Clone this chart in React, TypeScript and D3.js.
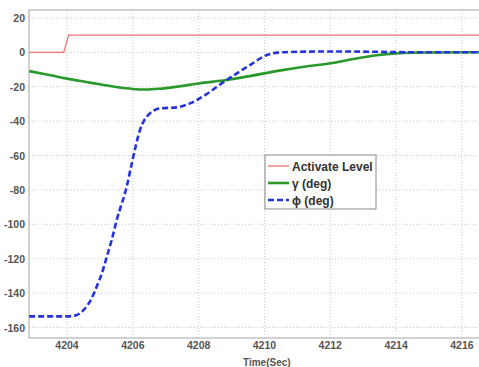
import React from "react";
import * as d3 from "d3";

const xTicks = [4204, 4206, 4208, 4210, 4212, 4214, 4216];
const yTicks = [20, 0, -20, -40, -60, -80, -100, -120, -140, -160];

const activateT = [4202.85, 4203.9, 4204.05, 4216.6];
const activateV = [0, 0, 10, 10];

const gammaT = [4202.85, 4203.5, 4204, 4204.5, 4205, 4205.5, 4206, 4206.4, 4206.8, 4207.4, 4208, 4208.85, 4209.5, 4210.5, 4211.2, 4212, 4212.7, 4213.4, 4214, 4215, 4216.6];
const gammaV = [-10.9, -13.3, -15.3, -17, -18.6, -20.2, -21.3, -21.6, -21.2, -19.8, -18.1, -16.1, -14, -10.5, -8.4, -6.4, -3.9, -1.7, -0.6, -0.1, 0];

const phiT = [4202.85, 4204.0, 4204.24, 4204.5, 4204.75, 4204.9, 4205.06, 4205.21, 4205.36, 4205.51, 4205.815, 4205.97, 4206.22, 4206.52, 4206.83, 4207.33, 4207.74, 4208.04, 4208.85, 4209.56, 4210.07, 4210.4, 4211, 4212, 4213, 4213.8, 4214.5, 4216.6];
const phiV = [-153.5, -153.5, -153.1, -149.9, -143, -136.3, -128.5, -118.8, -109, -97.6, -78, -64.5, -45, -35.5, -32.6, -32, -29.7, -26.7, -16.1, -7.4, -1.6, -0.2, 0.3, 0.5, 0.4, 0.2, 0, 0];

const legendLabels = ["Activate Level", "\u03b3 (deg)", "\u03d5 (deg)"];

const W = 479, H = 367;
const L = 29, R = 480, T = 10, B = 338;

export default function App() {
  const x = d3.scaleLinear().domain([4202.845, 4216.55]).range([L, R]);
  const y = d3.scaleLinear().domain([-166.1, 24.6]).range([B, T]);

  const lin = d3.line<[number, number]>().x(d => x(d[0])).y(d => y(d[1]));
  const smooth = d3.line<[number, number]>().x(d => x(d[0])).y(d => y(d[1])).curve(d3.curveMonotoneX);

  const act = activateT.map((t, i) => [t, activateV[i]] as [number, number]);
  const gam = gammaT.map((t, i) => [t, gammaV[i]] as [number, number]);
  const phi = phiT.map((t, i) => [t, phiV[i]] as [number, number]);

  const font = "Arial, 'Liberation Sans', sans-serif";
  const styles = [
    { stroke: "#f07373", width: 1.3, dash: undefined as string | undefined },
    { stroke: "#2a982a", width: 2.6, dash: undefined },
    { stroke: "#2433dc", width: 2.6, dash: "6,3" },
  ];

  return (
    <svg width={W} height={H} style={{ position: "absolute", left: 0, top: 0, background: "#fff" }}>
      <defs>
        <clipPath id="plot">
          <rect x={L} y={T} width={R - L} height={B - T} />
        </clipPath>
      </defs>
      {xTicks.map(t => (
        <line key={"gx" + t} x1={x(t)} x2={x(t)} y1={T} y2={B} stroke="#c8c8c8" strokeWidth={1} strokeDasharray="1,2" />
      ))}
      {yTicks.map(t => (
        <line key={"gy" + t} x1={L} x2={R} y1={y(t)} y2={y(t)} stroke="#c8c8c8" strokeWidth={1} strokeDasharray="1,2" />
      ))}
      <rect x={L} y={T} width={R - L} height={B - T} fill="none" stroke="#b4b4b4" strokeWidth={1.2} />
      {yTicks.map(t => (
        <text key={"ly" + t} x={25} y={y(t) + 4} textAnchor="end" fontFamily={font} fontSize={10.5} fontWeight="bold" fill="#555">{t}</text>
      ))}
      {xTicks.map(t => (
        <text key={"lx" + t} x={x(t)} y={349} textAnchor="middle" fontFamily={font} fontSize={10.5} fontWeight="bold" fill="#555">{t}</text>
      ))}
      <text x={243} y={366} fontFamily={font} fontSize={10} fontWeight="bold" fill="#555">Time(Sec)</text>
      <g clipPath="url(#plot)">
        <path d={lin(act) || ""} fill="none" stroke={styles[0].stroke} strokeWidth={styles[0].width} />
        <path d={smooth(gam) || ""} fill="none" stroke={styles[1].stroke} strokeWidth={styles[1].width} />
        <path d={smooth(phi) || ""} fill="none" stroke={styles[2].stroke} strokeWidth={styles[2].width} strokeDasharray={styles[2].dash} />
      </g>
      <g>
        <rect x={265} y={155} width={111} height={54} fill="#fff" stroke="#888" strokeWidth={1} />
        {legendLabels.map((lab, i) => {
          const yy = 166 + i * 17;
          return (
            <g key={lab}>
              <line x1={268} x2={289} y1={yy} y2={yy} stroke={styles[i].stroke} strokeWidth={styles[i].width} strokeDasharray={styles[i].dash} />
              <text x={292} y={yy + 4.5} fontFamily={font} fontSize={12} fontWeight="bold" fill="#333">{lab}</text>
            </g>
          );
        })}
      </g>
    </svg>
  );
}
